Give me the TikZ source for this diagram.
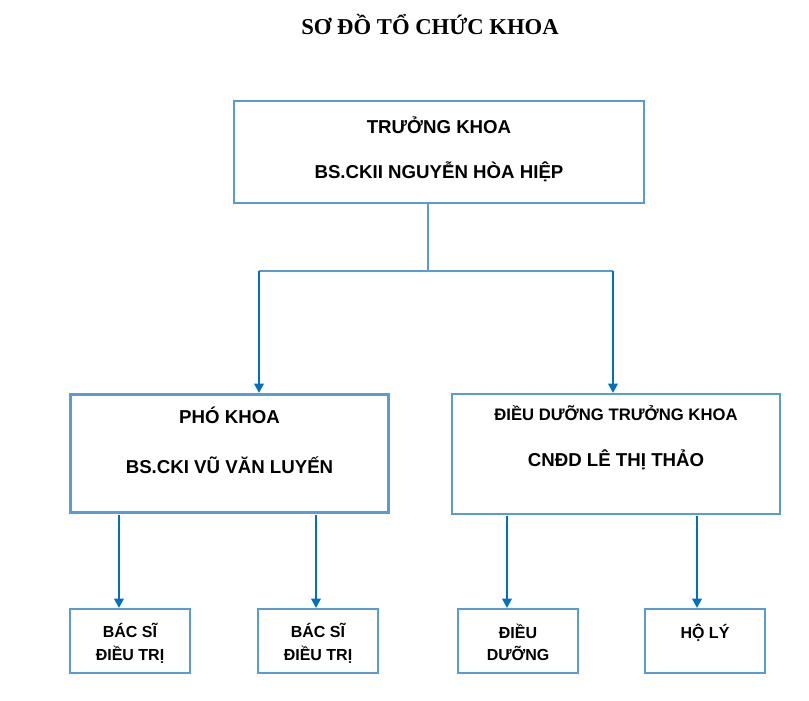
\documentclass[tikz,border=0pt]{standalone}
\usepackage{fontspec}
\setmainfont{Liberation Sans}
\newfontfamily\titlefont{Liberation Serif}
\usetikzlibrary{positioning,arrows.meta}
\definecolor{boxblue}{HTML}{5B9BD5}
\definecolor{arrowblue}{HTML}{0070C0}
\tikzset{
  box/.style={rectangle, draw=boxblue, line width=2.2pt, inner sep=0pt},
  txt/.style={font=\bfseries\fontsize{14}{16}\selectfont, text=black},
  stxt/.style={font=\bfseries\fontsize{12}{17}\selectfont, align=center, text=black},
  link/.style={draw=boxblue, line width=2.2pt},
  arr/.style={draw=arrowblue, line width=2.2pt, -{Triangle[length=7pt,width=7pt]}}
}
\begin{document}
\begin{tikzpicture}[x=0.75pt,y=-0.75pt]
	\useasboundingbox (0,0) rectangle (809,700);
	\node[font=\titlefont\bfseries\fontsize{17}{20}\selectfont] (title) at (430,25) {SƠ ĐỒ TỔ CHỨC KHOA};
	% main boxes
	\node[box, minimum width=307.5pt, minimum height=76.5pt] (head) at (439,152) {};
	\node[txt] at (439,125) {TRƯỞNG KHOA};
	\node[txt] at (439,172) {BS.CKII NGUYỄN HÒA HIỆP};
	\node[box, minimum width=239pt, minimum height=89pt] (vice) at (229.5,453.5) {};
	\node[txt] at (229.5,415) {PHÓ KHOA};
	\node[txt] at (229.5,465) {BS.CKI VŨ VĂN LUYẾN};
	\node[box, minimum width=246pt, minimum height=90pt] (nurse) at (616,454) {};
	\node[txt, font=\bfseries\fontsize{12.5}{15}\selectfont] at (616,413) {ĐIỀU DƯỠNG TRƯỞNG KHOA};
	\node[txt] at (616,460) {CNĐD LÊ THỊ THẢO};
	% bottom boxes
	\foreach \n/\x/\t in {d1/130/BÁC SĨ\\ĐIỀU TRỊ, d2/318/BÁC SĨ\\ĐIỀU TRỊ, n1/518/ĐIỀU\\DƯỠNG, n2/705/HỘ LÝ}{
		\node[box, line width=1.6pt, minimum width=90pt, minimum height=48pt] (\n) at (\x,641) {};
		\node[stxt, anchor=north] at (\x,619) {\t};
	}
	% connectors
	\coordinate (split) at (428,271);
	\draw[link] (428,203) -- (split);
	\draw[link] (259,271) coordinate (sl) -- (613,271) coordinate (sr);
	\draw[arr] (sl) -- (259,393);
	\draw[arr] (sr) -- (613,393);
	\foreach \x/\n in {119/d1,316/d2}{
		\draw[arr] (\x,515) -- (\x,608);
	}
	\foreach \x in {507,697}{
		\draw[arr] (\x,516) -- (\x,608);
	}
\end{tikzpicture}
\end{document}
